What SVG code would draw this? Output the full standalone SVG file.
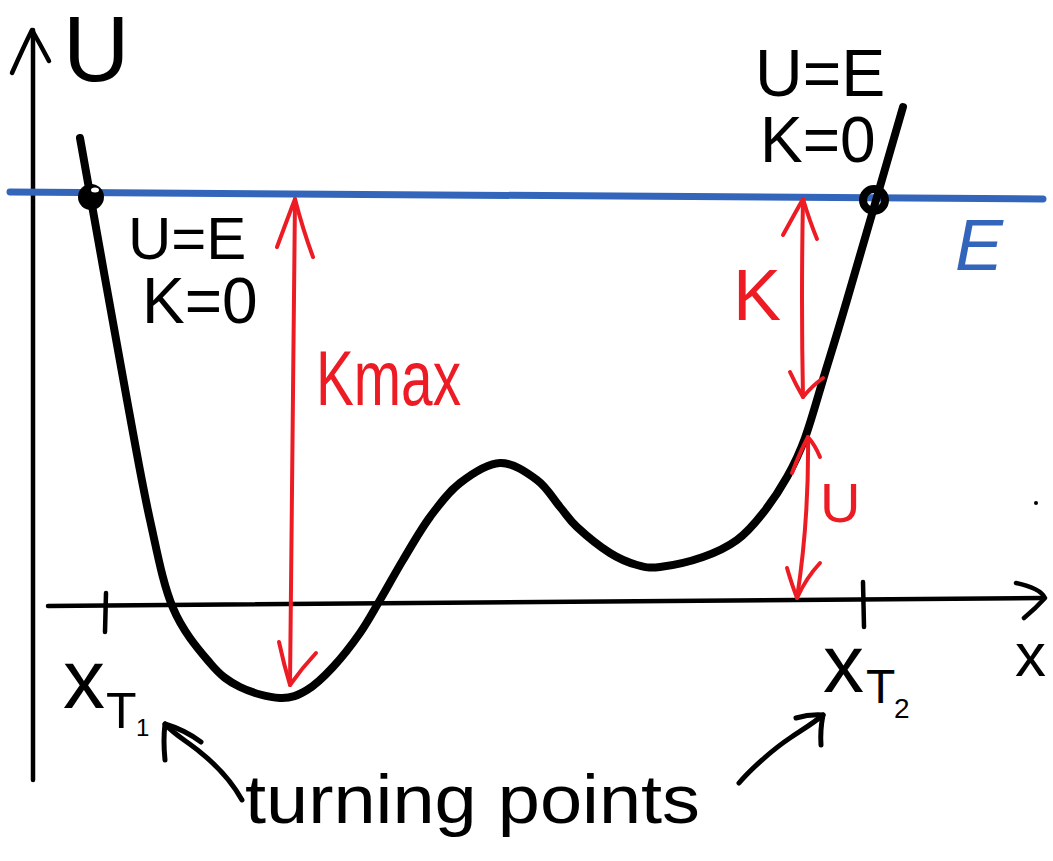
<svg xmlns="http://www.w3.org/2000/svg" width="1053" height="861" viewBox="0 0 1053 861">
<style>
.ink{fill:none;stroke:#000;stroke-linecap:round;stroke-linejoin:round}
.ax{stroke-width:4.5}
.red{fill:none;stroke:#ED1C24;stroke-width:4;stroke-linecap:round;stroke-linejoin:round}
.t{font-family:"Liberation Sans",Arial,sans-serif;fill:#000}
.tr{font-family:"Liberation Sans",Arial,sans-serif;fill:#ED1C24}
.tb{font-family:"Liberation Sans",Arial,sans-serif;fill:#3366BB;font-style:italic}
</style>
<rect width="1053" height="861" fill="#fff"/>
<g id="axes">
  <path class="ink ax" d="M33,780 L33,30"/>
  <path class="ink ax" d="M12,73 Q24,46 32,30 Q40,44 49,61"/>
  <path class="ink ax" d="M48,606 L1043,598"/>
  <path class="ink ax" d="M1016,583 Q1040,588 1045,598 Q1036,608 1024,618"/>
  <path class="ink ax" d="M106,593 L105,632"/>
  <path class="ink ax" d="M863,582 L864,627"/>
  <circle cx="1036" cy="503" r="2" fill="#000"/>
</g>
<g id="energy-line">
  <path d="M10,192 L1043,199" fill="none" stroke="#3366BB" stroke-width="7" stroke-linecap="round"/>
</g>
<g id="potential-curve">
  <path class="ink" stroke-width="8" d="M80,138 C87.8,181.7 115.3,336.3 127,400 C138.7,463.7 142.3,485.3 150,520 C157.7,554.7 163,584.2 173,608 C183,631.8 198.8,649.8 210,663 C221.2,676.2 228.3,681.2 240,687 C251.7,692.8 268.8,697.5 280,698 C291.2,698.5 298.2,695.2 307,690 C315.8,684.8 324.2,676.5 333,667 C341.8,657.5 352.2,644.2 360,633 C367.8,621.8 372.8,612.2 380,600 C387.2,587.8 394.7,573.8 403,560 C411.3,546.2 420.5,529.8 430,517 C439.5,504.2 448.3,492 460,483 C471.7,474 487.2,463.5 500,463 C512.8,462.5 527,472.7 537,480 C547,487.3 553.3,499.2 560,507 C566.7,514.8 568.7,519.3 577,527 C585.3,534.7 600,546.7 610,553 C620,559.3 628.7,562.7 637,565 C645.3,567.3 649,568.3 660,567 C671,565.7 690.2,561.5 703,557 C715.8,552.5 727,547.3 737,540 C747,532.7 754.7,523.5 763,513 C771.3,502.5 780,489.5 787,477 C794,464.5 798.7,455.3 805,438 C811.3,420.7 818,396 825,373 C832,350 834,344.3 847,300 C860,255.7 893.7,139.2 903,107"/>
</g>
<g id="turning-point-1">
  <circle cx="91" cy="197" r="13" fill="#000"/>
  <ellipse cx="95" cy="190" rx="4" ry="2.5" fill="#fff"/>
</g>
<g id="turning-point-2">
  <circle cx="874" cy="200" r="11" fill="none" stroke="#000" stroke-width="8"/>
</g>
<g id="connectors">
  <g id="kmax-arrow">
    <path class="red" d="M295,199 Q292,440 290,685"/>
    <path class="red" d="M277,247 Q287,220 295,199 Q303,230 313,257"/>
    <path class="red" d="M279,642 Q284,665 290,685 Q302,668 316,653"/>
  </g>
  <g id="k-arrow">
    <path class="red" d="M803,199 Q801,300 803,397"/>
    <path class="red" d="M783,235 Q794,215 803,199 Q810,222 817,239"/>
    <path class="red" d="M790,372 Q796,385 803,397 Q812,386 823,378"/>
  </g>
  <g id="u-arrow">
    <path class="red" d="M808,437 Q809,520 797,598"/>
    <path class="red" d="M792,473 Q800,452 808,437 Q815,445 820,457"/>
    <path class="red" d="M787,568 Q792,585 797,598 Q806,578 820,563"/>
  </g>
  <g id="tp-arrow-left">
    <path class="ink" stroke-width="5" d="M242,800 C232,782 220,768 200,752 C185,740 175,735 165,724"/>
    <path class="ink" stroke-width="5" d="M165,760 Q163,740 165,724 Q185,730 201,742"/>
  </g>
  <g id="tp-arrow-right">
    <path class="ink" stroke-width="5" d="M739,783 C750,770 772,750 790,738 C805,728 815,722 823,715"/>
    <path class="ink" stroke-width="5" d="M796,718 Q810,714 823,715 Q820,730 821,745"/>
  </g>
</g>
<g id="labels">
  <text class="t" x="63" y="81" font-size="92">U</text>
  <text class="t" x="128" y="259" font-size="60">U=E</text>
  <text class="t" x="142" y="323" font-size="64">K=0</text>
  <text class="t" x="755" y="96" font-size="66">U=E</text>
  <text class="t" x="760" y="162" font-size="64">K=0</text>
  <text class="tb" x="955" y="270" font-size="72">E</text>
  <text class="tr" x="733" y="320" font-size="72">K</text>
  <text class="tr" x="316" y="405" font-size="78" textLength="145" lengthAdjust="spacingAndGlyphs">Kmax</text>
  <text class="tr" x="820" y="522" font-size="56">U</text>
  <text class="t" x="63" y="708" font-size="84">x</text>
  <text class="t" x="106" y="728" font-size="50">T</text>
  <text class="t" x="136" y="736" font-size="24">1</text>
  <text class="t" x="823" y="692" font-size="82">x</text>
  <text class="t" x="866" y="703" font-size="48">T</text>
  <text class="t" x="894" y="718" font-size="28">2</text>
  <text class="t" x="1015" y="676" font-size="62">x</text>
  <text class="t" x="245" y="823" font-size="68" textLength="455" lengthAdjust="spacingAndGlyphs">turning points</text>
</g>
</svg>
